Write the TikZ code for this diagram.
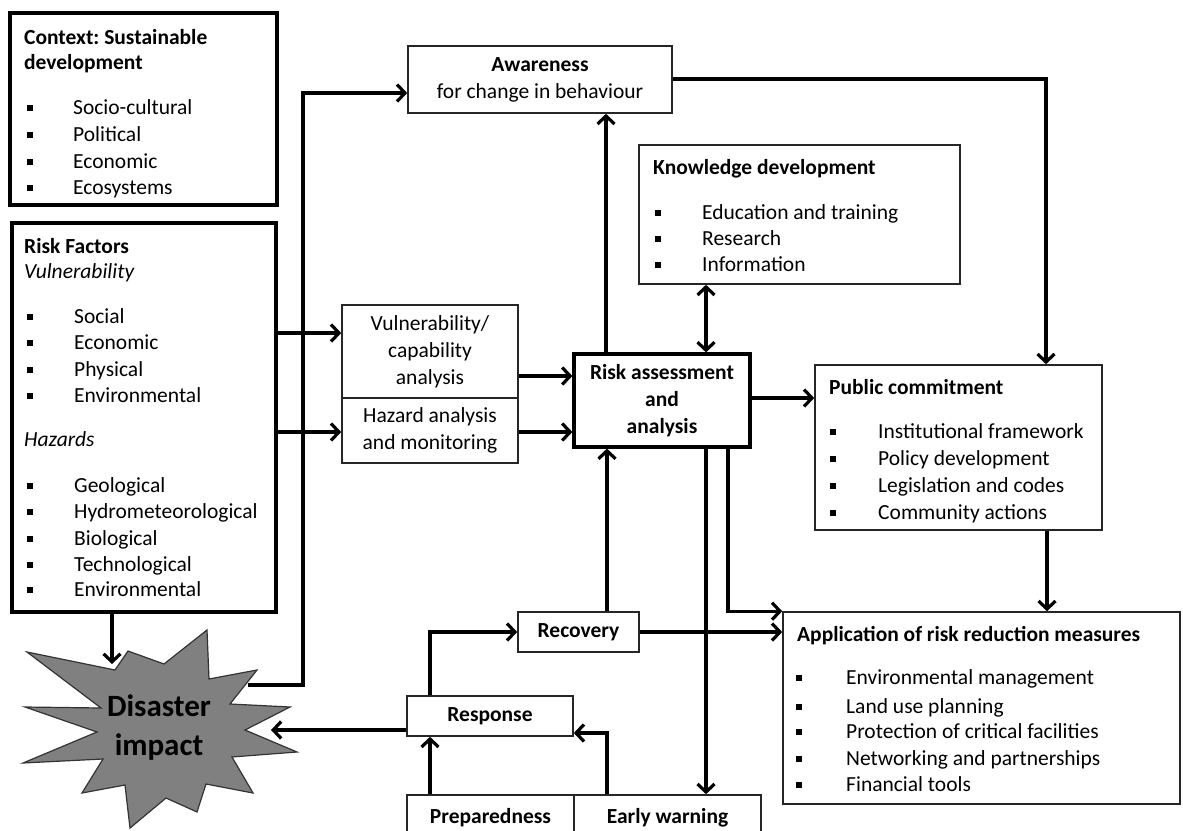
\documentclass[tikz,border=0pt]{standalone}
\usepackage{fontspec}
\setmainfont{Carlito}
\usetikzlibrary{arrows.meta,calc}
\frenchspacing
\definecolor{starfill}{RGB}{128,128,128}
\newcommand\fs{\fontsize{21.5}{27}\selectfont}
\tikzset{
  x=1pt,y=-1pt,
  txt/.style={inner sep=0pt, font=\fs, anchor=base west},
  ttl/.style={txt, font=\fs\bfseries},
  itl/.style={txt, font=\fs\itshape},
  thinbox/.style={draw=black!85, line width=1.6pt, inner sep=0pt, font=\fs, align=center},
  thickbox/.style={draw=black, line width=3.2pt, inner sep=0pt, font=\fs, align=center},
  arr/.style={line width=3.2pt, line join=miter, -{Straight Barb[length=8pt,width=17pt]}},
  darr/.style={line width=3.2pt, {Straight Barb[length=8pt,width=17pt]}-{Straight Barb[length=8pt,width=17pt]}},
}
% box by corners: name, style, x1, y1, x2, y2, text
\newcommand\boxc[7]{\node[#2, minimum width={#5-#3}, minimum height={#6-#4}] (#1) at ({(#3+#5)/2},{(#4+#6)/2}) {#7};}
% bullet item: name, bullet x, text x, center y, text
\newcommand\bitem[5]{\fill (#2-2.8,#4-2.8) rectangle ++(5.6,5.6);
  \node[txt] (#1) at (#3,#4+6) {#5};}
\newcommand\tline[5]{\node[#2] (#1) at (#3,#4+6) {#5};}

\begin{document}
\begin{tikzpicture}
\useasboundingbox (0,0) rectangle (1183,830);

% ---------- boxes ----------
\boxc{ctx}{thickbox}{10}{13}{277}{205}{}
\boxc{rf}{thickbox}{12}{223}{276}{612}{}
\boxc{vuln}{thinbox}{342}{305}{518}{398}{Vulnerability/\\capability\\analysis}
\boxc{haz}{thinbox}{342}{398}{518}{463}{Hazard analysis\\and monitoring}
\boxc{risk}{thickbox}{574}{354}{750}{447}{\bfseries Risk assessment\\\bfseries and\\\bfseries analysis}
\boxc{aware}{thinbox}{408}{46}{672}{113}{\bfseries Awareness\\for change in behaviour}
\boxc{know}{thinbox}{639}{145}{960}{284}{}
\boxc{pub}{thinbox}{815}{365}{1102}{530}{}
\boxc{app}{thinbox}{783}{612}{1180}{804}{}
\boxc{rec}{thinbox}{518}{612}{639}{652}{\bfseries Recovery}
\boxc{resp}{thinbox}{407}{696}{573}{736}{\bfseries Response}
\boxc{prep}{thinbox}{407}{795}{574}{841}{\bfseries Preparedness}
\boxc{ew}{thinbox}{574}{795}{761}{841}{\bfseries Early warning}

% ---------- Context ----------
\tline{ctxt1}{ttl}{24}{38}{Context: Sustainable}
\tline{ctxt2}{ttl}{24}{63}{development}
\bitem{c1}{30}{73}{108}{Socio-cultural}
\bitem{c2}{30}{73}{135}{Political}
\bitem{c3}{30}{73}{162}{Economic}
\bitem{c4}{30}{73}{188}{Ecosystems}

% ---------- Risk factors ----------
\tline{rft}{ttl}{24}{247}{Risk Factors}
\tline{rfv}{itl}{24}{272}{Vulnerability}
\bitem{r1}{30}{74}{317}{Social}
\bitem{r2}{30}{74}{343}{Economic}
\bitem{r3}{30}{74}{370}{Physical}
\bitem{r4}{30}{74}{396}{Environmental}
\tline{rfh}{itl}{24}{440}{Hazards}
\bitem{r5}{30}{74}{486}{Geological}
\bitem{r6}{30}{74}{512}{Hydrometeorological}
\bitem{r7}{30}{74}{539}{Biological}
\bitem{r8}{30}{74}{565}{Technological}
\bitem{r9}{30}{74}{590}{Environmental}

% ---------- Knowledge ----------
\tline{knt}{ttl}{653}{168}{Knowledge development}
\bitem{k1}{658}{702}{213}{Education and training}
\bitem{k2}{658}{702}{239}{Research}
\bitem{k3}{658}{702}{265}{Information}

% ---------- Public commitment ----------
\tline{pubt}{ttl}{829}{388}{Public commitment}
\bitem{p1}{833}{878}{432}{Institutional framework}
\bitem{p2}{833}{878}{459}{Policy development}
\bitem{p3}{833}{878}{486}{Legislation and codes}
\bitem{p4}{833}{878}{513}{Community actions}

% ---------- Application ----------
\tline{appt}{ttl}{797}{635}{Application of risk reduction measures}
\bitem{a1}{799}{846}{678}{Environmental management}
\bitem{a2}{799}{846}{707}{Land use planning}
\bitem{a3}{799}{846}{732}{Protection of critical facilities}
\bitem{a4}{799}{846}{759}{Networking and partnerships}
\bitem{a5}{799}{846}{785}{Financial tools}

% ---------- Disaster star ----------
\path[draw=black!80, fill=starfill, line width=1.2pt, line join=miter]
  (290,707) -- (230,704) -- (257,670) -- (209,679) -- (207,630) -- (164,664)
  -- (128,651) -- (115,670) -- (27,652) -- (101,708) -- (25,707) -- (97,732)
  -- (23,763) -- (103,759) -- (82,793) -- (125,785) -- (130,828) -- (166,798)
  -- (197,812) -- (206,784) -- (253,793) -- (232,757) -- (297,752) -- (245,730) -- cycle;
\node[font=\fontsize{31}{39}\selectfont\bfseries, align=center, inner sep=0pt] (dis) at (159,728) {Disaster\\impact};
\coordinate (disN) at (112,664);
\coordinate (disE) at (248,685);
\coordinate (disR) at (271,730);

% ---------- connectors ----------
\draw[arr] (112,0 |- rf.south) -- (disN);
\draw[arr] (disE) -| (303,93) -- (aware.west |- 303,93);
\draw[arr] (rf.east |- 0,333) -- (vuln.west |- 0,333);
\draw[arr] (rf.east |- 0,432) -- (haz.west |- 0,432);
\draw[arr] (vuln.east |- 0,376) -- (risk.west |- 0,376);
\draw[arr] (haz.east |- 0,432) -- (risk.west |- 0,432);
\draw[arr] (606,0 |- risk.north) -- (606,0 |- aware.south);
\draw[darr] (706,0 |- risk.north) -- (706,0 |- know.south);
\draw[arr] (aware.east |- 0,79) -| (1046,0 |- pub.north);
\draw[arr] (risk.east |- 0,398) -- (pub.west |- 0,398);
\draw[arr] (1047,0 |- pub.south) -- (1047,0 |- app.north);
\draw[arr] (728,0 |- risk.south) |- (app.north west);
\draw[arr] (607,0 |- rec.north) -- (607,0 |- risk.south);
\draw[arr] (rec.east |- 0,632) -- (app.west |- 0,632);
\draw[arr] (706,0 |- risk.south) -- (706,0 |- ew.north);
\draw[arr] (430,0 |- resp.north) |- (rec.west |- 0,632);
\draw[arr] (430,0 |- prep.north) -- (430,0 |- resp.south);
\draw[arr] (607,0 |- ew.north) |- (resp.east |- 0,733);
\draw[arr] (resp.west |- 0,730) -- (disR);
\end{tikzpicture}
\end{document}
